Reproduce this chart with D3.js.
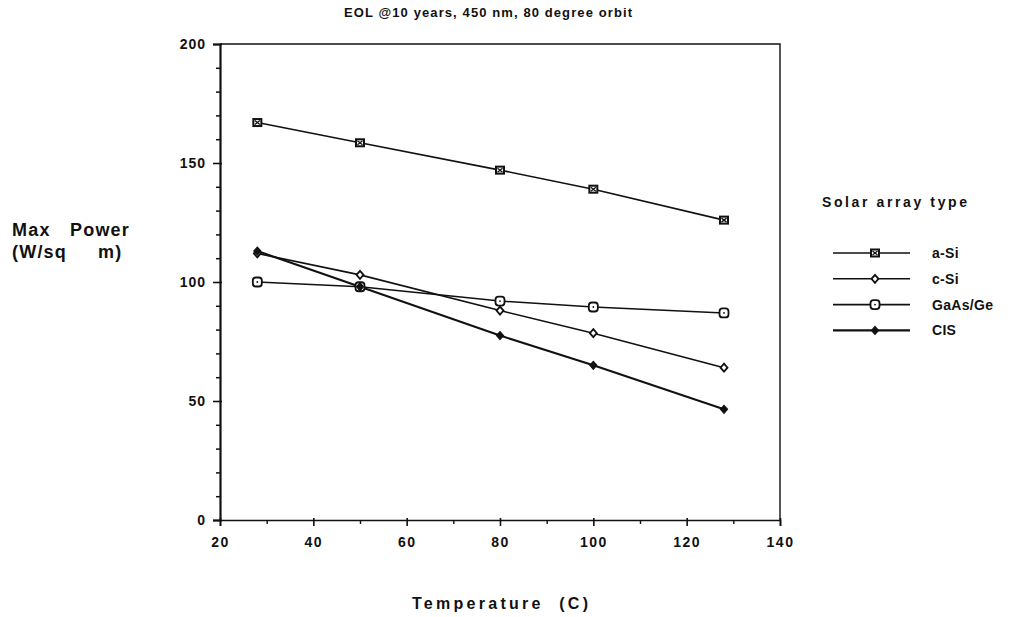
<!DOCTYPE html>
<html>
<head>
<meta charset="utf-8">
<script src="https://cdn.jsdelivr.net/npm/d3@7"></script>
<style>
  html, body { margin: 0; padding: 0; background: #fff; }
  svg { display: block; font-family: "Liberation Sans", Arial, sans-serif; }
</style>
</head>
<body>
<svg id="chart" width="1015" height="617"></svg>
<script>
// ---- data ----
const temperatures = [28, 50, 80, 100, 128];
const seriesNames = ["a-Si", "c-Si", "GaAs/Ge", "CIS"];
const aSi  = [167, 158.5, 147, 139, 126];
const cSi  = [112, 103, 88, 78.5, 64];
const gaAs = [100, 98, 92, 89.5, 87];
const cis  = [113, 98, 77.5, 65, 46.5];
const seriesValues = [aSi, cSi, gaAs, cis];
const xTicks = [20, 40, 60, 80, 100, 120, 140];
const xMinorTicks = [30, 50, 70, 90, 110, 130];
const yTicks = [0, 50, 100, 150, 200];
const yMinorTicks = [10, 20, 30, 40, 60, 70, 80, 90, 110, 120, 130, 140, 160, 170, 180, 190];
const titleText = "EOL @10 years, 450 nm, 80 degree orbit";
const xTitle = "Temperature  (C)";
const yTitleWords = [["Max", "Power"], ["(W/sq", "m)"]];
const legendTitle = "Solar array type";
const markerKinds = ["boxcross", "diamondOpen", "roundSquare", "diamondFilled"];

// ---- drawing ----
const svg = d3.select("#chart");
const x = d3.scaleLinear().domain([20, 140]).range([220, 780]);
const y = d3.scaleLinear().domain([0, 200]).range([520, 44]);

const ink = "#111";
const fontFam = "Liberation Sans, Arial, sans-serif";

// frame (top and right)
svg.append("path")
  .attr("d", `M${x(20)},${y(200)}H${x(140)}V${y(0)}`)
  .attr("fill", "none").attr("stroke", ink).attr("stroke-width", 1.4);

// y axis
const yAxis = svg.append("g").attr("transform", `translate(${x(20)},0)`)
  .call(d3.axisLeft(y).tickValues(yTicks).tickSize(7).tickPadding(7).tickFormat(d3.format("d")));
yAxis.select(".domain").attr("stroke", ink).attr("stroke-width", 2.2);
yAxis.selectAll(".tick line").attr("x2", -7).attr("x1", 2).attr("stroke", ink).attr("stroke-width", 1.6);
yAxis.selectAll(".tick text").attr("font-size", 14).attr("font-weight", "bold")
  .attr("letter-spacing", "1px").attr("fill", ink).attr("font-family", fontFam);
const yMinor = svg.append("g").attr("transform", `translate(${x(20)},0)`)
  .call(d3.axisLeft(y).tickValues(yMinorTicks).tickSize(4).tickFormat(""));
yMinor.select(".domain").remove();
yMinor.selectAll(".tick line").attr("stroke", ink).attr("stroke-width", 1.5);

// x axis
const xAxis = svg.append("g").attr("transform", `translate(0,${y(0)})`)
  .call(d3.axisBottom(x).tickValues(xTicks).tickSize(6).tickPadding(11).tickFormat(d3.format("d")));
xAxis.select(".domain").attr("stroke", ink).attr("stroke-width", 1.6);
xAxis.selectAll(".tick line").attr("y1", -2).attr("stroke", ink).attr("stroke-width", 1.6);
xAxis.selectAll(".tick text").attr("font-size", 14).attr("font-weight", "bold")
  .attr("letter-spacing", "1.5px").attr("fill", ink).attr("font-family", fontFam);
const xMinor = svg.append("g").attr("transform", `translate(0,${y(0)})`)
  .call(d3.axisBottom(x).tickValues(xMinorTicks).tickSize(4).tickFormat(""));
xMinor.select(".domain").remove();
xMinor.selectAll(".tick line").attr("stroke", ink).attr("stroke-width", 1.4);

// marker drawing
function drawMarker(g, kind, cx, cy) {
  const m = g.append("g").attr("transform", `translate(${cx},${cy})`);
  if (kind === "boxcross") {
    m.append("rect").attr("x", -4).attr("y", -3.5).attr("width", 8).attr("height", 7)
      .attr("fill", "#fff").attr("stroke", ink).attr("stroke-width", 2);
    m.append("path").attr("d", "M-2.5,-2L2.5,2M-2.5,2L2.5,-2").attr("stroke", ink).attr("stroke-width", 1.3);
  } else if (kind === "diamondOpen") {
    m.append("path").attr("d", "M0,-4L3.5,0L0,4L-3.5,0Z")
      .attr("fill", "#fff").attr("stroke", ink).attr("stroke-width", 1.8);
  } else if (kind === "roundSquare") {
    m.append("rect").attr("x", -4.5).attr("y", -4.5).attr("width", 9).attr("height", 9).attr("rx", 3)
      .attr("fill", "#fff").attr("stroke", ink).attr("stroke-width", 1.8);
    m.append("circle").attr("r", 0.9).attr("fill", ink);
  } else {
    m.append("path").attr("d", "M0,-4L3.5,0L0,4L-3.5,0Z")
      .attr("fill", ink).attr("stroke", ink).attr("stroke-width", 1.2);
  }
}

const line = d3.line().x((d, i) => x(temperatures[i])).y(d => y(d));
const plotG = svg.append("g");
seriesValues.forEach((vals, si) => {
  plotG.append("path").datum(vals).attr("d", line)
    .attr("fill", "none").attr("stroke", ink)
    .attr("stroke-width", si === 3 ? 2.1 : 1.6).attr("stroke-linejoin", "round");
});
seriesValues.forEach((vals, si) => {
  vals.forEach((v, i) => drawMarker(plotG, markerKinds[si], x(temperatures[i]), y(v)));
});

// title
svg.append("text").attr("x", 488).attr("y", 17).attr("text-anchor", "middle")
  .attr("font-size", 13).attr("font-weight", "bold").attr("fill", ink)
  .attr("textLength", 288).attr("lengthAdjust", "spacing").text(titleText);

// y title
const yTitleX = [[12, 70], [12, 98]];
yTitleWords.forEach((words, i) => {
  words.forEach((w, j) => {
    svg.append("text").attr("x", yTitleX[i][j]).attr("y", 236 + i * 22)
      .attr("font-size", 18).attr("font-weight", "bold").attr("fill", ink)
      .attr("letter-spacing", "1.2px").text(w);
  });
});

// x title
svg.append("text").attr("x", 500).attr("y", 609).attr("text-anchor", "middle")
  .attr("font-size", 16).attr("font-weight", "bold").attr("fill", ink)
  .style("white-space", "pre")
  .attr("textLength", 176).attr("lengthAdjust", "spacing").text(xTitle);

// legend
svg.append("text").attr("x", 822).attr("y", 207)
  .attr("font-size", 14).attr("font-weight", "bold").attr("fill", ink)
  .attr("textLength", 145).attr("lengthAdjust", "spacing").text(legendTitle);
seriesNames.forEach((name, i) => {
  const ly = 253 + i * 25.8;
  svg.append("line").attr("x1", 833).attr("x2", 910).attr("y1", ly).attr("y2", ly)
    .attr("stroke", ink).attr("stroke-width", i === 3 ? 2.4 : 1.6);
  drawMarker(svg, markerKinds[i], 875, ly);
  svg.append("text").attr("x", 932).attr("y", ly + 5)
    .attr("font-size", 14).attr("font-weight", "bold").attr("fill", ink)
    .attr("letter-spacing", "0.3px").text(name);
});
</script>
</body>
</html>
